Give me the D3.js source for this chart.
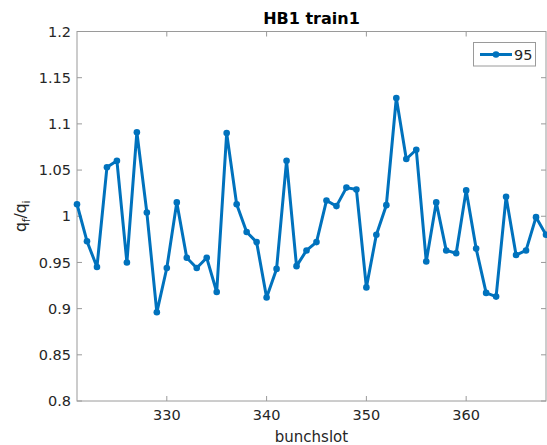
<!DOCTYPE html>
<html>
<head>
<meta charset="utf-8">
<script src="https://cdn.jsdelivr.net/npm/d3@7"></script>
<style>
  body { margin: 0; background: #fff; }
  text { font-family: "DejaVu Sans", sans-serif; }
</style>
</head>
<body>
<svg width="547" height="445"></svg>
<script>
// bunch slots and measured ratio q_f/q_i
const slots = d3.range(321, 369);
const ratio = [
  1.013, 0.973, 0.945, 1.053, 1.060, 0.950, 1.091, 1.004, 0.896, 0.944,
  1.015, 0.955, 0.944, 0.955, 0.918, 1.090, 1.013, 0.983, 0.972, 0.912,
  0.943, 1.060, 0.946, 0.963, 0.972, 1.017, 1.011, 1.031, 1.029, 0.923,
  0.980, 1.012, 1.128, 1.062, 1.072, 0.951, 1.015, 0.963, 0.960, 1.028,
  0.965, 0.917, 0.913, 1.021, 0.958, 0.963, 0.999, 0.980
];
const xTicks = [330, 340, 350, 360];
const yTicks = [0.8, 0.85, 0.9, 0.95, 1, 1.05, 1.1, 1.15, 1.2];
const seriesName = "95";

const svg = d3.select("svg");
const mLeft = 77, mRight = 546, mTop = 31.5, mBottom = 401;
const blue = "#0072BD", ink = "#262626", axisCol = "#9a9a9a";

const x = d3.scaleLinear().domain([321, 368]).range([mLeft, mRight]);
const y = d3.scaleLinear().domain([0.8, 1.2]).range([mBottom, mTop]);

// frame
svg.append("rect")
  .attr("x", mLeft).attr("y", mTop)
  .attr("width", mRight - mLeft).attr("height", mBottom - mTop)
  .attr("fill", "none").attr("stroke", axisCol).attr("stroke-width", 1);

// ticks on all four sides, pointing inward
const tick = svg.append("g").attr("stroke", axisCol).attr("stroke-width", 1);
xTicks.forEach(t => {
  tick.append("line").attr("x1", x(t)).attr("x2", x(t)).attr("y1", mBottom).attr("y2", mBottom - 5);
  tick.append("line").attr("x1", x(t)).attr("x2", x(t)).attr("y1", mTop).attr("y2", mTop + 5);
});
yTicks.forEach(t => {
  tick.append("line").attr("x1", mLeft).attr("x2", mLeft + 5).attr("y1", y(t)).attr("y2", y(t));
  tick.append("line").attr("x1", mRight).attr("x2", mRight - 5).attr("y1", y(t)).attr("y2", y(t));
});

// tick labels
svg.append("g").selectAll("text").data(xTicks).join("text")
  .attr("x", d => x(d)).attr("y", 420)
  .attr("text-anchor", "middle").attr("font-size", "14.5px").attr("fill", ink)
  .text(d => d);
svg.append("g").selectAll("text").data(yTicks).join("text")
  .attr("x", 71).attr("y", d => y(d)).attr("dy", "0.35em")
  .attr("text-anchor", "end").attr("font-size", "14.5px").attr("fill", ink)
  .text(d => +d.toFixed(2));

// axis titles
svg.append("text")
  .attr("x", (mLeft + mRight) / 2).attr("y", 442)
  .attr("text-anchor", "middle").attr("font-size", "15px").attr("fill", ink)
  .text("bunchslot");

const yl = svg.append("text")
  .attr("transform", `translate(26, ${(mTop + mBottom) / 2}) rotate(-90)`)
  .attr("text-anchor", "middle").attr("font-size", "15.5px").attr("fill", ink);
yl.append("tspan").text("q");
yl.append("tspan").attr("font-size", "10.5px").attr("dy", "4").text("f");
yl.append("tspan").attr("dy", "-4").text("/q");
yl.append("tspan").attr("font-size", "10.5px").attr("dy", "4").text("i");

svg.append("text")
  .attr("x", (mLeft + mRight) / 2).attr("y", 24)
  .attr("text-anchor", "middle").attr("font-size", "16px")
  .attr("font-weight", "bold").attr("fill", "#000")
  .text("HB1 train1");

// series
const pts = slots.map((s, i) => [s, ratio[i]]);
svg.append("path")
  .datum(pts)
  .attr("fill", "none").attr("stroke", blue).attr("stroke-width", 3)
  .attr("stroke-linejoin", "round")
  .attr("d", d3.line().x(d => x(d[0])).y(d => y(d[1])));
svg.append("g").selectAll("circle").data(pts).join("circle")
  .attr("cx", d => x(d[0])).attr("cy", d => y(d[1])).attr("r", 3.3)
  .attr("fill", blue);

// legend
const lg = svg.append("g");
lg.append("rect").attr("x", 473.5).attr("y", 42.5).attr("width", 62).attr("height", 23.5)
  .attr("fill", "#fff").attr("stroke", axisCol).attr("stroke-width", 1);
lg.append("line").attr("x1", 480).attr("x2", 512).attr("y1", 54.5).attr("y2", 54.5)
  .attr("stroke", blue).attr("stroke-width", 3);
lg.append("circle").attr("cx", 496).attr("cy", 54.5).attr("r", 3.3).attr("fill", blue);
lg.append("text").attr("x", 514).attr("y", 54.5).attr("dy", "0.35em")
  .attr("font-size", "14.5px").attr("fill", ink).text(seriesName);
</script>
</body>
</html>
